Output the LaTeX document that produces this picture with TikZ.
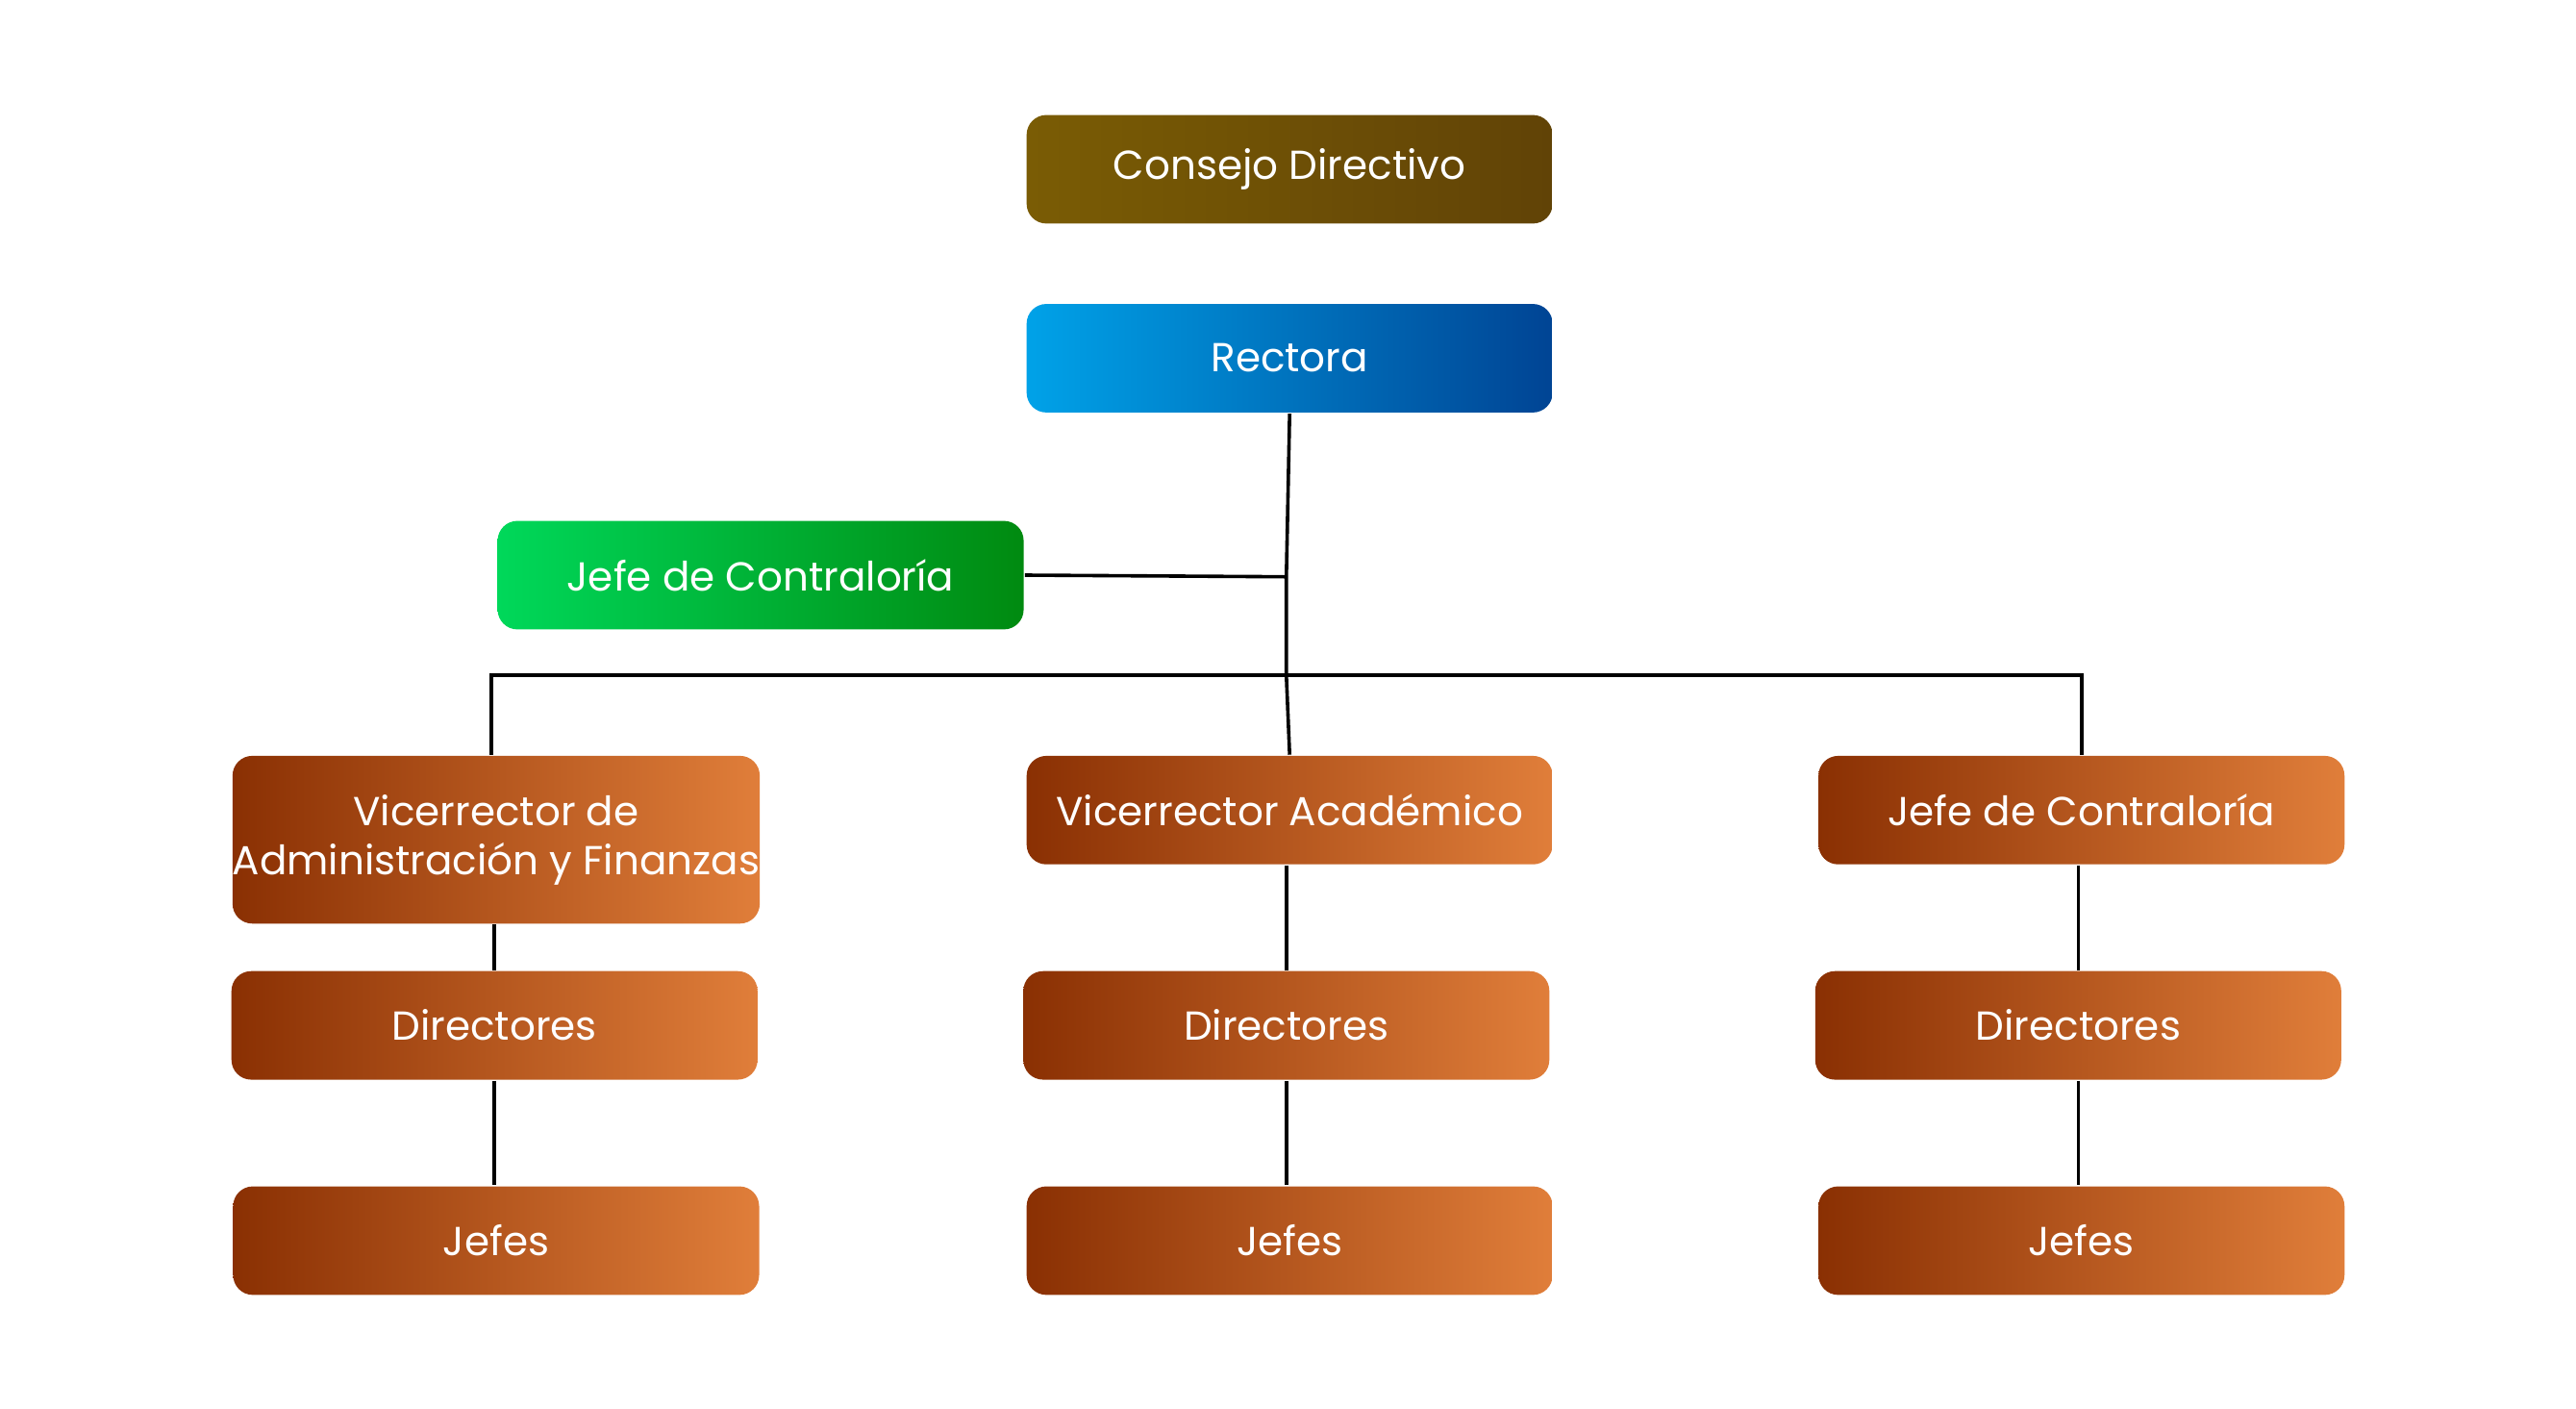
\documentclass[tikz,border=0pt]{standalone}
\usepackage{fontspec}
\setmainfont{Poppins}
\usetikzlibrary{positioning}
\tikzset{
  box/.style={rounded corners=1.2mm, minimum width=3.2cm, minimum height=0.66cm,
    text=white, align=center, font=\fontsize{7}{8.5}\selectfont, inner sep=0pt},
  oro/.style={box, left color=brown!60!black!90!orange, right color=brown!70!black},
  naranja/.style={box, left color={rgb,255:red,138;green,48;blue,3}, middle color={rgb,255:red,186;green,88;blue,8}, right color={rgb,255:red,224;green,126;blue,58}},
  linea/.style={line width=0.6pt, black}
}
\definecolor{oroA}{RGB}{122,92,5}
\definecolor{oroB}{RGB}{97,67,6}
\definecolor{azulA}{RGB}{0,162,232}
\definecolor{azulB}{RGB}{0,68,148}
\definecolor{verdeA}{RGB}{0,216,90}
\definecolor{verdeB}{RGB}{0,138,16}
\begin{document}
\begin{tikzpicture}[x=0.01cm,y=-0.01cm]
  \useasboundingbox (0,0) rectangle (1568,857);
  % cabeza
  \node[box, left color=oroA, right color=oroB] (consejo) at (785,103) {Consejo Directivo};
  \node[box, left color=azulA, right color=azulB] (rectora) at (785,218) {Rectora};
  \node[box, left color=verdeA, right color=verdeB] (contra) at (463,350) {Jefe de Contraloría};
  % vicerrectores
  \node[naranja, minimum height=1.02cm] (viceA) at (302,511) {Vicerrector de\\Administración y Finanzas};
  \node[naranja] (viceB) at (785,493) {Vicerrector Académico};
  \node[naranja] (viceC) at (1267,493) {Jefe de Contraloría};
  % directores
  \node[naranja] (dirA) at (301,624) {Directores};
  \node[naranja] (dirB) at (783,624) {Directores};
  \node[naranja] (dirC) at (1265,624) {Directores};
  % jefes
  \node[naranja] (jefA) at (302,755) {Jefes};
  \node[naranja] (jefB) at (785,755) {Jefes};
  \node[naranja] (jefC) at (1267,755) {Jefes};
  % conexiones
  \coordinate (nudo) at (783,351);
  \coordinate (bus) at (783,411);
  \draw[linea] (rectora.south) -- (nudo) -- (bus) -- (viceB.north);
  \draw[linea] (contra.east) -- (nudo);
  \draw[linea] (viceA.north -| 299,0) |- (bus) -| (viceC.north);
  \foreach \c in {A,B,C}{
    \draw[linea] (vice\c.south -| dir\c) -- (dir\c.north);
    \draw[linea] (dir\c.south) -- (jef\c.north -| dir\c);
  }
\end{tikzpicture}
\end{document}
